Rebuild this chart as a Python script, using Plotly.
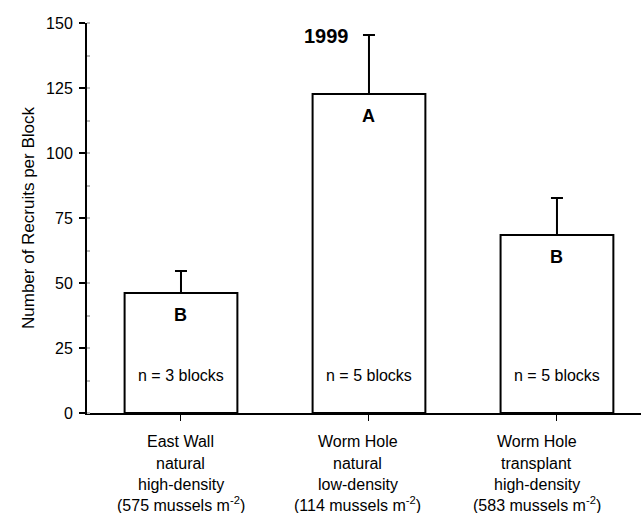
import plotly.graph_objects as go

categories = ["East Wall", "Worm Hole natural", "Worm Hole transplant"]
cat_lines = [
    ["East Wall", "natural", "high-density", "(575 mussels m<sup>-2</sup>)"],
    ["Worm Hole", "natural", "low-density", "(114 mussels m<sup>-2</sup>)"],
    ["Worm Hole", "transplant", "high-density", "(583 mussels m<sup>-2</sup>)"],
]
recruits = [46.2, 122.7, 68.5]
std_err = [8.4, 22.7, 14.2]
letters = ["B", "A", "B"]
n_blocks = [3, 5, 5]
year_label = "1999"
y_ticks = [0, 25, 50, 75, 100, 125, 150]

FONT = "Liberation Sans, Arial, sans-serif"
xs = list(range(len(categories)))

fig = go.Figure()
fig.add_trace(go.Bar(
    x=xs, y=recruits, width=0.6,
    marker=dict(color="white", line=dict(color="black", width=2)),
    error_y=dict(type="data", symmetric=False, array=std_err,
                 arrayminus=[0] * len(std_err),
                 color="black", thickness=2, width=6),
    showlegend=False,
))

annotations = []
label_shift = [0, -11, -20]
line_y = [-28, -50, -71, -91]
for i, (v, let, n, lines) in enumerate(zip(recruits, letters, n_blocks, cat_lines)):
    annotations.append(dict(x=i, y=v, xref="x", yref="y", text=f"<b>{let}</b>",
                            showarrow=False, yshift=-22, yanchor="middle",
                            font=dict(family=FONT, size=18, color="black")))
    annotations.append(dict(x=i, y=0, xref="x", yref="y", text=f"n = {n} blocks",
                            showarrow=False, yshift=38, yanchor="middle",
                            font=dict(family=FONT, size=16, color="black")))
    for k, line in enumerate(lines):
        annotations.append(dict(x=i, y=0, xref="x", yref="paper", text=line,
                                showarrow=False, yshift=line_y[k], yanchor="middle",
                                xshift=label_shift[i], align="center",
                                font=dict(family=FONT, size=16, color="black")))

annotations.append(dict(x=0.433, y=145, xref="paper", yref="y", text=f"<b>{year_label}</b>",
                        showarrow=False, yanchor="middle", xanchor="center",
                        font=dict(family=FONT, size=20, color="black")))
annotations.append(dict(x=0, y=0.5, xref="paper", yref="paper",
                        text="Number of Recruits per Block", textangle=-90,
                        showarrow=False, xshift=-59, xanchor="center", yanchor="middle",
                        font=dict(family=FONT, size=17, color="black")))

fig.update_layout(
    width=641, height=513,
    margin=dict(l=87, r=0, t=23, b=100, autoexpand=False),
    paper_bgcolor="white", plot_bgcolor="white",
    annotations=annotations,
    xaxis=dict(range=[-0.5, 2.447], tickvals=xs, showticklabels=False,
               showline=True, linecolor="black", linewidth=2,
               ticks="outside", ticklen=6, tickwidth=1, tickcolor="black",
               showgrid=False, zeroline=False, fixedrange=True),
    yaxis=dict(range=[0, 150], tickvals=y_ticks,
               showline=True, linecolor="black", linewidth=2,
               ticks="outside", ticklen=6, tickwidth=2, tickcolor="black",
               ticklabelstandoff=3,
               tickfont=dict(family=FONT, size=16, color="black"),
               minor=dict(ticks="inside", ticklen=3, tickcolor="#bbbbbb", dtick=12.5, showgrid=False),
               showgrid=False, zeroline=False),
)

fig.write_html("out.html")
